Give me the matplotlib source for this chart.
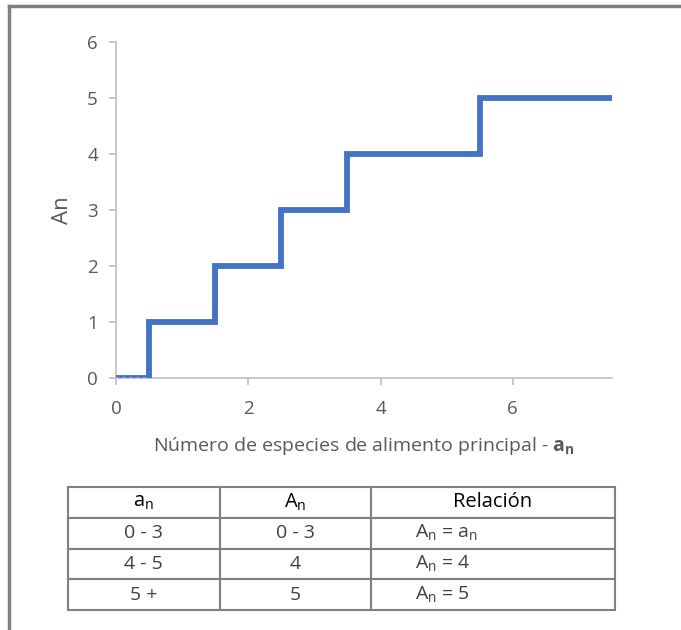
import matplotlib
matplotlib.use('Agg')
import matplotlib.pyplot as plt
from matplotlib.lines import Line2D

# step data: number of main food species (a_n) -> A_n
step_x = [0, 0.5, 1.5, 2.5, 3.5, 5.5, 7.5]
step_y = [0, 1, 2, 3, 4, 5, 5]
dash_x = [0, 0.5]
dash_y = [0, 0]

x_ticks = [0, 2, 4, 6]
y_ticks = [0, 1, 2, 3, 4, 5, 6]

col_labels = [r'a$_\mathregular{n}$', r'A$_\mathregular{n}$', 'Relación']
table_rows = [
    ['0 - 3', '0 - 3', r'A$_\mathregular{n}$ = a$_\mathregular{n}$'],
    ['4 - 5', '4', r'A$_\mathregular{n}$ = 4'],
    ['5 +', '5', r'A$_\mathregular{n}$ = 5'],
]

plt.rcParams['font.family'] = ['Open Sans', 'DejaVu Sans']
plt.rcParams['mathtext.fontset'] = 'custom'
plt.rcParams['mathtext.rm'] = 'Open Sans'
plt.rcParams['mathtext.bf'] = 'Open Sans:bold'

W, H = 681, 630
fig = plt.figure(figsize=(W / 100, H / 100), dpi=100)

# chart area
ax = fig.add_axes([116 / W, (H - 378) / H, 496 / W, 336 / H])
ax.step(step_x, step_y, where='post', color='#4472C4', linewidth=4.2, solid_joinstyle='miter')
ax.plot(dash_x, dash_y, color='#9DB5E0', linewidth=1.2, linestyle=(0, (2, 2)))

ax.set_xlim(0, 7.5)
ax.set_ylim(0, 6)
ax.set_xticks(x_ticks)
ax.set_yticks(y_ticks)
for s in ['top', 'right']:
    ax.spines[s].set_visible(False)
for s in ['left', 'bottom']:
    ax.spines[s].set_color('#BFBFBF')
    ax.spines[s].set_linewidth(1.2)
ax.spines['left'].set_zorder(0)
ax.spines['bottom'].set_zorder(0)
ax.tick_params(axis='both', colors='#BFBFBF', labelcolor='#595959', labelsize=13.5,
               length=5, width=1.2, direction='out')
ax.tick_params(axis='y', pad=8)
ax.tick_params(axis='x', pad=11)
ax.set_ylabel('An', fontsize=16, color='#595959', labelpad=10)
ax.set_xlabel(r'Número de especies de alimento principal - $\mathbf{a_n}$',
              fontsize=14, color='#595959', labelpad=12)

# table below the chart
tax = fig.add_axes([68 / W, (H - 610) / H, 547 / W, 123 / H])
tax.axis('off')
tab = tax.table(cellText=table_rows, colLabels=col_labels, cellLoc='center',
                colWidths=[0.277, 0.277, 0.446], bbox=[0, 0, 1, 1])
tab.auto_set_font_size(False)
tab.set_fontsize(14)
for (r, c), cell in tab.get_celld().items():
    cell.set_edgecolor('#808080')
    cell.set_linewidth(1.5)
    if r == 0:
        cell.get_text().set_color('black')
        cell.get_text().set_fontsize(14.5)
    else:
        cell.get_text().set_color('#404040')
        if c == 2:
            cell.get_text().set_ha('left')
            cell.PAD = 0.18

# grey frame around the figure (top and left edges only)
fig.add_artist(Line2D([9 / W, 1], [1 - 6 / H, 1 - 6 / H], color='#808080', linewidth=2.5))
fig.add_artist(Line2D([9 / W, 9 / W], [0, 1 - 6 / H], color='#808080', linewidth=2.5))

plt.savefig('out.png', dpi=100)
